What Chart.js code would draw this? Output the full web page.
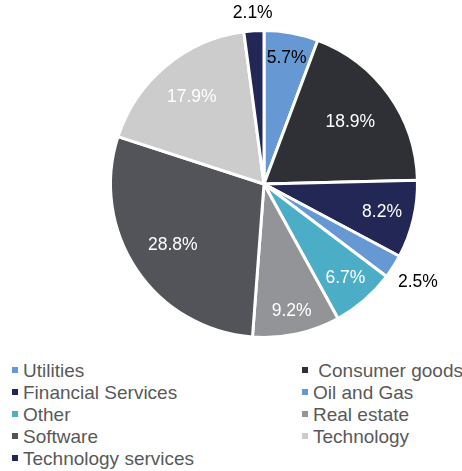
<!DOCTYPE html>
<html>
<head>
<meta charset="utf-8">
<script src="https://cdn.jsdelivr.net/npm/chart.js@4"></script>
<style>
  html, body { margin: 0; padding: 0; background: #fff; }
  body { width: 462px; height: 471px; position: relative; overflow: hidden; font-family: "Liberation Sans", Arial, sans-serif; }
  #wrap { position: absolute; left: 0; top: 0; width: 462px; height: 345px; }
  #legend { position: absolute; left: 0; top: 360px; width: 462px; }
  .item { position: absolute; height: 22px; line-height: 22px; font-size: 19px; color: #595959; white-space: pre; }
  .sw { display: inline-block; width: 6px; height: 6px; margin-right: 5px; vertical-align: middle; position: relative; top: -2px; }
</style>
</head>
<body>
<div id="wrap"><canvas id="c"></canvas></div>
<div id="legend"></div>
<script>
const categories = ["Utilities", "Consumer goods", "Financial Services", "Oil and Gas", "Other", "Real estate", "Software", "Technology", "Technology services"];
const shares = [5.7, 18.9, 8.2, 2.5, 6.7, 9.2, 28.8, 17.9, 2.1];
const sliceColors = ["#6699D4", "#2E3035", "#222755", "#6699D4", "#4BAEC6", "#939498", "#525459", "#CDCCCD", "#222755"];
const labelColors = ["#000000", "#FFFFFF", "#FFFFFF", "#000000", "#FFFFFF", "#FFFFFF", "#FFFFFF", "#FFFFFF", "#000000"];
const legendNames = ["Utilities", " Consumer goods", "Financial Services", "Oil and Gas", "Other", "Real estate", "Software", "Technology", "Technology services"];
// label placement style: fraction of radius for inside labels, null = outside
const labelRadius = [0.83, 0.69, 0.79, null, 0.81, 0.85, 0.715, 0.735, null];

const labelPlugin = {
  id: 'sliceLabels',
  afterDatasetsDraw(chart) {
    const ctx = chart.ctx;
    const meta = chart.getDatasetMeta(0);
    ctx.save();
    ctx.font = '17.5px "Liberation Sans", Arial, sans-serif';
    ctx.textAlign = 'center';
    ctx.textBaseline = 'middle';
    meta.data.forEach((arc, i) => {
      const p = arc.getProps(['x', 'y', 'startAngle', 'endAngle', 'outerRadius'], true);
      const mid = (p.startAngle + p.endAngle) / 2;
      const txt = shares[i].toFixed(1) + '%';
      const cx = Math.cos(mid), sy = Math.sin(mid);
      let r;
      if (labelRadius[i] === null) {
        const w = ctx.measureText(txt).width, h = 16;
        r = p.outerRadius + 8 + Math.abs(cx) * w / 2 + Math.abs(sy) * h / 2;
      } else {
        r = p.outerRadius * labelRadius[i];
      }
      ctx.fillStyle = labelColors[i];
      ctx.fillText(txt, p.x + cx * r, p.y + sy * r);
    });
    ctx.restore();
  }
};

new Chart(document.getElementById('c'), {
  type: 'pie',
  data: {
    labels: categories,
    datasets: [{
      data: shares,
      backgroundColor: sliceColors,
      borderColor: '#FFFFFF',
      borderWidth: 3,
      hoverOffset: 0,
      offset: 0
    }]
  },
  options: {
    responsive: true,
    maintainAspectRatio: false,
    animation: false,
    layout: { padding: { left: 109, right: 43, top: 29, bottom: 6 } },
    plugins: { legend: { display: false }, tooltip: { enabled: false } }
  },
  plugins: [labelPlugin]
});

const lg = document.getElementById('legend');
categories.forEach((c, i) => {
  const d = document.createElement('div');
  d.className = 'item';
  const col = i % 2, row = Math.floor(i / 2);
  d.style.left = (col === 0 ? 12 : 302) + 'px';
  d.style.top = (row * 22) + 'px';
  const sw = document.createElement('span');
  sw.className = 'sw';
  sw.style.background = sliceColors[i];
  d.appendChild(sw);
  d.appendChild(document.createTextNode(legendNames[i]));
  lg.appendChild(d);
});
</script>
</body>
</html>
